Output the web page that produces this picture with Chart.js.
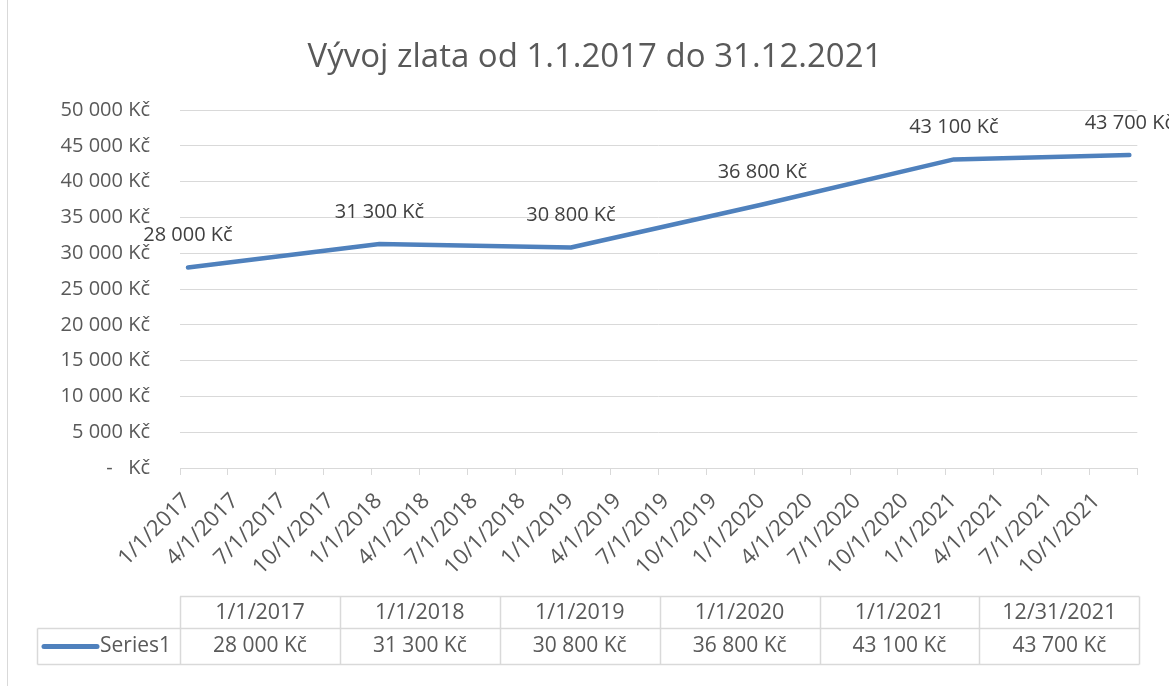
<!DOCTYPE html>
<html>
<head>
<meta charset="utf-8">
<script src="https://cdn.jsdelivr.net/npm/chart.js@4"></script>
<style>
html,body{margin:0;padding:0;background:#fff;}
#wrap{position:relative;width:1169px;height:686px;}
</style>
</head>
<body>
<div id="wrap"><canvas id="c" width="1169" height="686"></canvas></div>
<script>
const titleText = 'Vývoj zlata od 1.1.2017 do 31.12.2021';
const seriesName = 'Series1';
const pointDates = ['1/1/2017', '1/1/2018', '1/1/2019', '1/1/2020', '1/1/2021', '12/31/2021'];
const pointValues = [28000, 31300, 30800, 36800, 43100, 43700];
const xTickLabels = ['1/1/2017','4/1/2017','7/1/2017','10/1/2017','1/1/2018','4/1/2018','7/1/2018','10/1/2018',
  '1/1/2019','4/1/2019','7/1/2019','10/1/2019','1/1/2020','4/1/2020','7/1/2020','10/1/2020',
  '1/1/2021','4/1/2021','7/1/2021','10/1/2021'];
const yMin = 0, yMax = 50000, yStep = 5000;

const startYear = 2017;
// month-based date axis (Excel base unit: months); points sit in the middle of their month slot
function monthIndex(d){ const [m, , y] = d.split('/').map(Number); return (y - startYear) * 12 + (m - 1) + 0.5; }
const totalMonths = 60;

const FONT = '"Open Sans", "Liberation Sans", sans-serif';
const TXT = '#595959';
const GRID = '#d9d9d9';
const LINE = '#4f81bd';

function fmtKc(v){
  if (v === 0) return '-   Kč';
  return String(v).replace(/\B(?=(\d{3})+(?!\d))/g, ' ') + ' Kč';
}

const extras = {
  id: 'extras',
  beforeDraw(chart){
    const ctx = chart.ctx;
    ctx.save();
    ctx.strokeStyle = GRID; ctx.lineWidth = 1;
    ctx.beginPath(); ctx.moveTo(7.5, 0); ctx.lineTo(7.5, 686); ctx.stroke();
    ctx.font = '33px ' + FONT;
    ctx.fillStyle = TXT;
    ctx.textAlign = 'center';
    ctx.textBaseline = 'alphabetic';
    ctx.fillText(titleText, 595, 67);
    ctx.restore();
  },
  afterDatasetsDraw(chart){
    const ctx = chart.ctx;
    const meta = chart.getDatasetMeta(0);
    ctx.save();
    ctx.font = '20px ' + FONT;
    ctx.fillStyle = '#404040';
    ctx.textAlign = 'center';
    ctx.textBaseline = 'middle';
    meta.data.forEach((p, i) => {
      ctx.fillText(fmtKc(pointValues[i]), p.x, p.y - 32);
    });
    ctx.restore();
  },
  afterDraw(chart){
    const ctx = chart.ctx;
    const xs = chart.scales.x;
    const left = xs.left, right = xs.right + 2;
    const n = pointDates.length;
    const cw = (right - left) / n;
    const r0 = 596.5, r1 = 628.5, r2 = 664.5;
    const legL = 37.5;
    ctx.save();
    ctx.strokeStyle = GRID; ctx.lineWidth = 1.5;
    ctx.beginPath();
    ctx.moveTo(left, r0); ctx.lineTo(right, r0);
    ctx.moveTo(legL, r1); ctx.lineTo(right, r1);
    ctx.moveTo(legL, r2); ctx.lineTo(right, r2);
    ctx.moveTo(legL, r1); ctx.lineTo(legL, r2);
    for (let i = 0; i <= n; i++){
      const x = Math.round(left + i * cw) + 0.5;
      ctx.moveTo(x, r0); ctx.lineTo(x, r2);
    }
    ctx.stroke();
    ctx.fillStyle = TXT;
    ctx.textAlign = 'center';
    ctx.textBaseline = 'middle';
    for (let i = 0; i < n; i++){
      const cx = left + (i + 0.5) * cw;
      ctx.font = '21.5px ' + FONT;
      ctx.fillText(pointDates[i], cx, (r0 + r1) / 2);
      ctx.font = '21px ' + FONT;
      ctx.fillText(fmtKc(pointValues[i]), cx, (r1 + r2) / 2);
    }
    ctx.strokeStyle = LINE; ctx.lineWidth = 5; ctx.lineCap = 'round';
    ctx.beginPath(); ctx.moveTo(44, 646.5); ctx.lineTo(97, 646.5); ctx.stroke();
    ctx.textAlign = 'left';
    ctx.font = '21px ' + FONT;
    ctx.fillText(seriesName, 100, 646.5);
    ctx.restore();
  }
};

new Chart(document.getElementById('c'), {
  type: 'line',
  data: {
    datasets: [{
      label: seriesName,
      data: pointDates.map((d, i) => ({ x: monthIndex(d), y: pointValues[i] })),
      borderColor: LINE,
      borderWidth: 4.5,
      borderCapStyle: 'round',
      borderJoinStyle: 'round',
      pointRadius: 0,
      tension: 0,
      fill: false
    }]
  },
  options: {
    responsive: false,
    animation: false,
    layout: { padding: { top: 110, right: 29, bottom: 108, left: 0 } },
    plugins: {
      legend: { display: false },
      tooltip: { enabled: false },
      title: { display: false }
    },
    scales: {
      x: {
        type: 'linear',
        min: 0,
        max: totalMonths,
        afterBuildTicks(s){
          const t = [];
          for (let i = 0; i <= xTickLabels.length; i++) t.push({ value: i * 3 });
          s.ticks = t;
        },
        afterFit(s){ s.height = 110; },
        grid: { drawOnChartArea: false, drawTicks: true, tickLength: 7, color: GRID, lineWidth: 1 },
        border: { display: true, color: GRID, width: 1 },
        ticks: {
          autoSkip: false,
          maxRotation: 45,
          minRotation: 45,
          padding: 13,
          labelOffset: 7,
          color: TXT,
          font: { family: FONT, size: 22 },
          callback: (v, i) => xTickLabels[i] ?? ''
        }
      },
      y: {
        min: yMin,
        max: yMax,
        afterFit(s){ s.width = 180; },
        grid: { color: GRID, lineWidth: 1, drawTicks: false },
        border: { display: false },
        ticks: {
          stepSize: yStep,
          padding: 30,
          color: TXT,
          font: { family: FONT, size: 20 },
          callback: v => fmtKc(v)
        }
      }
    }
  },
  plugins: [extras]
});
</script>
</body>
</html>
